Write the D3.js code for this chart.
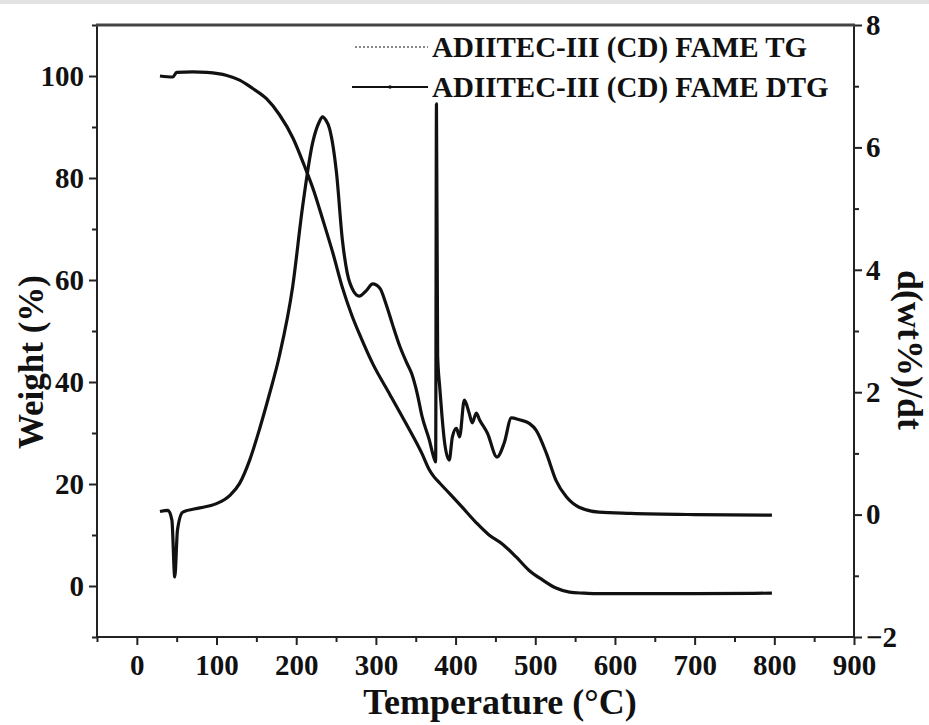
<!DOCTYPE html>
<html>
<head>
<meta charset="utf-8">
<script src="https://cdn.jsdelivr.net/npm/d3@7"></script>
<style>
  html, body { margin: 0; padding: 0; background: #fff; }
  svg { display: block; }
  text { font-family: "Liberation Serif", "Times New Roman", serif; font-weight: bold; fill: #111; }
</style>
</head>
<body>
<svg id="chart" width="929" height="725"></svg>
<script>
// Thermogravimetric curves of ADIITEC-III (CD) FAME
// TG: weight (%) vs temperature (°C)
const tgTemp   = [29, 45, 50, 70, 88, 113, 129, 145, 163, 179, 196, 210, 222, 233, 246, 258, 270, 281, 296, 317, 338, 358, 367, 373, 380, 392, 408, 426, 442, 459, 476, 492, 509, 526, 543, 560, 576, 620, 700, 797];
const tgWeight = [100.0, 99.8, 100.7, 100.8, 100.7, 100.1, 99.2, 97.6, 95.5, 92.4, 87.8, 82.5, 77.5, 72.0, 65.3, 58.5, 53.0, 48.8, 43.6, 37.7, 31.8, 25.9, 22.8, 21.4, 20.2, 18.2, 15.5, 12.4, 10.0, 8.2, 5.7, 3.1, 1.2, -0.4, -1.2, -1.4, -1.5, -1.5, -1.5, -1.4];

// DTG: d(wt%)/dt vs temperature (°C)
const dtgTemp  = [29, 39, 44, 47.6, 51, 57.6, 79, 100, 116.5, 129, 141.6, 154, 166, 179, 195.5, 208, 220.5, 229, 233, 237, 242, 250.6, 258, 264, 272, 279, 288, 296, 305, 313, 321, 330, 338, 345, 352, 358, 367, 373, 375, 376, 377.5, 380, 383, 386, 392, 396, 401, 405, 411, 417, 421, 426, 430, 440, 452, 461, 470, 480, 492.5, 501, 514, 526, 539, 555, 580, 620, 700, 797];
const dtgValue = [0.05, 0.07, -0.09, -1.02, -0.25, 0.04, 0.11, 0.18, 0.31, 0.51, 0.89, 1.4, 1.95, 2.6, 3.72, 5.03, 6.07, 6.42, 6.5, 6.45, 6.3, 5.58, 4.48, 3.95, 3.65, 3.57, 3.66, 3.77, 3.7, 3.43, 3.1, 2.75, 2.5, 2.3, 1.97, 1.6, 1.22, 0.92, 0.86, 6.71, 2.6, 2.1, 1.6, 1.2, 0.89, 1.27, 1.41, 1.27, 1.87, 1.66, 1.5, 1.66, 1.55, 1.33, 0.94, 1.17, 1.58, 1.55, 1.49, 1.38, 1.0, 0.56, 0.29, 0.12, 0.04, 0.02, 0.0, -0.01];

// Axis ticks
const xMajor = [0, 100, 200, 300, 400, 500, 600, 700, 800, 900];
const xMinor = [-50, 50, 150, 250, 350, 450, 550, 650, 750, 850];
const yLeftMajor = [0, 20, 40, 60, 80, 100];
const yLeftMinor = [-10, 10, 30, 50, 70, 90, 110];
const yRightMajor = [-2, 0, 2, 4, 6, 8];
const yRightMinor = [-1, 1, 3, 5, 7];

const legendLabels = ["ADIITEC-III (CD) FAME TG", "ADIITEC-III (CD) FAME DTG"];

const svg = d3.select("#chart");
const plot = { left: 97, right: 854, top: 25, bottom: 637 };

const x  = d3.scaleLinear().domain([-50, 900]).range([plot.left, plot.right]);
const yL = d3.scaleLinear().domain([-10, 110]).range([plot.bottom, plot.top]);
const yR = d3.scaleLinear().domain([-2, 8]).range([plot.bottom, plot.top]);

// faint strip along the top edge of the page
svg.append("rect").attr("x", 0).attr("y", 0).attr("width", 929).attr("height", 4).attr("fill", "#e2e2e2");

const axisColor = "#222";
const fontSize = 29;

function styleAxis(g) {
  g.select(".domain").remove();
  g.selectAll("line").attr("stroke", axisColor).attr("stroke-width", 2);
  g.selectAll("text").style("font-size", fontSize + "px").attr("fill", "#111");
}

// bottom axis
const gx = svg.append("g").attr("transform", `translate(0,${plot.bottom})`);
gx.call(d3.axisBottom(x).tickValues(xMajor).tickSize(8).tickPadding(4).tickFormat(d3.format("d")));
styleAxis(gx);
gx.selectAll("text").attr("dy", "0.9em");
svg.append("g").attr("transform", `translate(0,${plot.bottom})`)
  .call(d3.axisBottom(x).tickValues(xMinor).tickSize(5).tickFormat(""))
  .call(styleAxis);

// left axis
const gyl = svg.append("g").attr("transform", `translate(${plot.left},0)`);
gyl.call(d3.axisLeft(yL).tickValues(yLeftMajor).tickSize(8).tickPadding(5).tickFormat(d3.format("d")));
styleAxis(gyl);
svg.append("g").attr("transform", `translate(${plot.left},0)`)
  .call(d3.axisLeft(yL).tickValues(yLeftMinor).tickSize(5).tickFormat(""))
  .call(styleAxis);

// right axis
const gyr = svg.append("g").attr("transform", `translate(${plot.right},0)`);
gyr.call(d3.axisRight(yR).tickValues(yRightMajor).tickSize(8).tickPadding(4).tickFormat(d3.format("d")));
styleAxis(gyr);
svg.append("g").attr("transform", `translate(${plot.right},0)`)
  .call(d3.axisRight(yR).tickValues(yRightMinor).tickSize(5).tickFormat(""))
  .call(styleAxis);

// frame
const frame = svg.append("g").attr("stroke", axisColor).attr("stroke-width", 2).attr("fill", "none");
frame.append("line").attr("x1", plot.left).attr("x2", plot.left).attr("y1", plot.top).attr("y2", plot.bottom + 1);
frame.append("line").attr("x1", plot.right).attr("x2", plot.right).attr("y1", plot.top).attr("y2", plot.bottom + 1);
frame.append("line").attr("x1", plot.left - 1).attr("x2", plot.right + 1).attr("y1", plot.bottom).attr("y2", plot.bottom);
frame.append("line").attr("x1", plot.left - 1).attr("x2", plot.right + 1).attr("y1", plot.top).attr("y2", plot.top)
  .attr("stroke", "#444").attr("stroke-width", 3);

// curves
const tgData  = tgTemp.map((t, i) => [t, tgWeight[i]]);
const dtgData = dtgTemp.map((t, i) => [t, dtgValue[i]]);

const tgLine = d3.line().x(d => x(d[0])).y(d => yL(d[1])).curve(d3.curveMonotoneX);
const dtgLine = d3.line().x(d => x(d[0])).y(d => yR(d[1])).curve(d3.curveMonotoneX);

svg.append("path").datum(tgData).attr("d", tgLine)
  .attr("fill", "none").attr("stroke", "#111").attr("stroke-width", 3.2).attr("stroke-linejoin", "round");
svg.append("path").datum(dtgData).attr("d", dtgLine)
  .attr("fill", "none").attr("stroke", "#111").attr("stroke-width", 3.2).attr("stroke-linejoin", "round");

// legend
const legend = svg.append("g");
legend.append("line").attr("x1", 355).attr("x2", 428).attr("y1", 47).attr("y2", 47)
  .attr("stroke", "#888").attr("stroke-width", 2).attr("stroke-dasharray", "2,2");
legend.append("line").attr("x1", 352).attr("x2", 428).attr("y1", 87).attr("y2", 87)
  .attr("stroke", "#111").attr("stroke-width", 2);
legend.append("circle").attr("cx", 390).attr("cy", 87).attr("r", 1.8).attr("fill", "#111");
legend.selectAll("text.lg").data(legendLabels).join("text")
  .attr("class", "lg")
  .attr("x", 432).attr("y", (d, i) => 57 + i * 40)
  .style("font-size", fontSize + "px")
  .text(d => d);

// axis titles
svg.append("text").attr("x", 500).attr("y", 714).attr("text-anchor", "middle")
  .style("font-size", "36px").text("Temperature (°C)");
svg.append("text").attr("transform", "translate(43,362) rotate(-90)").attr("text-anchor", "middle")
  .style("font-size", "35px").text("Weight (%)");
svg.append("text").attr("transform", "translate(898,350) rotate(90)").attr("text-anchor", "middle")
  .style("font-size", "36px").text("d(wt%)/dt");
</script>
</body>
</html>
